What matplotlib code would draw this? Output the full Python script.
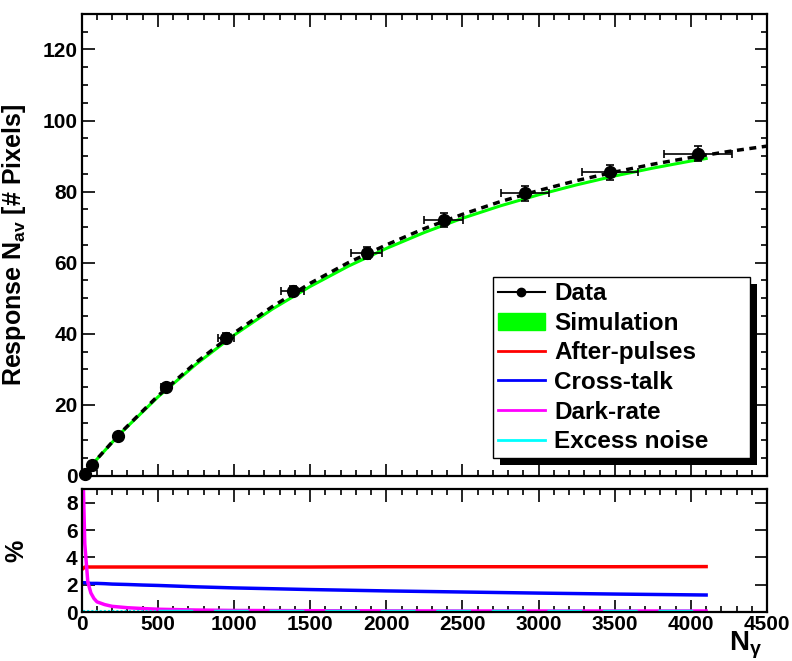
import matplotlib
matplotlib.use('Agg')
import matplotlib.pyplot as plt
from matplotlib.patches import Patch, Rectangle
from matplotlib.lines import Line2D
from matplotlib.ticker import MultipleLocator

plt.rcParams['font.family'] = ['Liberation Sans', 'DejaVu Sans']
plt.rcParams['font.weight'] = 'bold'
plt.rcParams['mathtext.fontset'] = 'custom'
plt.rcParams['mathtext.rm'] = 'Liberation Sans:bold'
plt.rcParams['mathtext.it'] = 'Liberation Sans:bold'
plt.rcParams['mathtext.bf'] = 'Liberation Sans:bold'

# measured response
data_x = [20, 68, 238, 552, 946, 1386, 1872, 2378, 2910, 3470, 4047]
data_y = [0.4, 3.1, 11.3, 25.0, 38.9, 52.1, 62.7, 72.0, 79.5, 85.5, 90.6]
data_xerr = [1, 4, 13, 30, 52, 76, 102, 128, 158, 184, 223]
data_yerr = [0.5, 0.6, 0.8, 1.0, 1.2, 1.4, 1.6, 1.9, 2.1, 2.1, 2.1]

# fit curve (dashed)
fit_x = [0, 250, 500, 750, 1000, 1250, 1500, 1750, 2000, 2250, 2500, 2750,
         3000, 3250, 3500, 3750, 4000, 4250, 4500]
fit_y = [0, 11.9, 22.5, 31.9, 40.2, 47.6, 54.2, 60.0, 65.0, 69.6, 73.6, 77.2,
         80.3, 83.1, 85.5, 87.7, 89.6, 91.3, 92.8]

# simulation (green)
sim_x = [0, 250, 500, 750, 1000, 1250, 1500, 1750, 2000, 2250, 2500, 2750,
         3000, 3250, 3500, 3750, 4000, 4100]
sim_y = [0, 11.8, 22.2, 31.4, 39.6, 46.9, 53.3, 59.0, 64.0, 68.5, 72.5, 76.0,
         79.1, 81.9, 84.4, 86.6, 88.6, 89.3]

# contributions in %
noise_x = [10, 20, 40, 60, 80, 100, 150, 200, 300, 400, 500, 750, 1000,
           1500, 2000, 2500, 3000, 3500, 4100]
afterpulse = [3.2, 3.3, 3.3, 3.3, 3.3, 3.3, 3.3, 3.3, 3.3, 3.3, 3.3, 3.3, 3.3,
              3.3, 3.32, 3.32, 3.32, 3.32, 3.33]
crosstalk = [2.15, 2.15, 2.12, 2.1, 2.1, 2.1, 2.08, 2.05, 2.02, 1.98, 1.95,
             1.85, 1.77, 1.65, 1.55, 1.47, 1.39, 1.32, 1.25]
darkrate = [9.5, 5.0, 2.2, 1.4, 1.0, 0.75, 0.55, 0.42, 0.32, 0.26, 0.21, 0.15,
            0.12, 0.1, 0.09, 0.08, 0.08, 0.08, 0.08]
excess = [0.08] * len(noise_x)

fig = plt.figure(figsize=(7.92, 6.61), dpi=100)
ax = fig.add_axes([0.1032, 0.280, 0.8653, 0.699])
axb = fig.add_axes([0.1032, 0.074, 0.8653, 0.186])

ax.plot(sim_x, sim_y, color='#00ff00', lw=2.2, zorder=2)
ax.plot(fit_x, fit_y, color='black', lw=2.5, ls=(0, (2.0, 1.6)), zorder=3)
ax.errorbar(data_x, data_y, xerr=data_xerr, yerr=data_yerr, fmt='o',
            color='black', ms=8.5, elinewidth=1.2, capsize=3, capthick=1.2,
            zorder=4, clip_on=False)

axb.plot(noise_x, afterpulse, color='#ff0000', lw=2.5)
axb.plot(noise_x, crosstalk, color='#0000ff', lw=2.5)
axb.plot(noise_x, darkrate, color='#ff00ff', lw=2.5)
axb.plot(noise_x[10:], excess[10:], color='#00ffff', lw=2.5,
         ls=(0, (10, 6)))
axb.plot(noise_x[:11], excess[:11], color='#00ffff', lw=1.5,
         ls=(0, (1, 1)))

for a in (ax, axb):
    a.set_xlim(0, 4500)
    a.xaxis.set_major_locator(MultipleLocator(500))
    a.xaxis.set_minor_locator(MultipleLocator(100))
    a.tick_params(which='both', direction='in', top=True, right=True,
                  width=1.2, labelsize=15, pad=3)
    a.tick_params(which='major', length=9)
    a.tick_params(which='minor', length=4.5)
    for s in a.spines.values():
        s.set_linewidth(1.6)

ax.set_ylim(0, 130)
ax.yaxis.set_major_locator(MultipleLocator(20))
ax.yaxis.set_minor_locator(MultipleLocator(5))
ax.tick_params(axis='x', labelbottom=False)
ax.set_ylabel(r'Response $\mathrm{N_{av}}$ [# Pixels]', fontsize=18,
              fontweight='bold')
ax.yaxis.set_label_coords(-0.078, 0.5)

axb.set_ylim(0, 9)
axb.yaxis.set_major_locator(MultipleLocator(2))
axb.yaxis.set_minor_locator(MultipleLocator(2))
axb.tick_params(axis='x', pad=2)
axb.set_ylabel('%', fontsize=18, fontweight='bold')
axb.yaxis.set_label_coords(-0.078, 0.5)
fig.text(0.962, 0.0, r'$\mathrm{N_{\gamma}}$', fontsize=20,
         fontweight='bold', ha='right', va='bottom')

handles = [
    Line2D([], [], color='black', marker='o', ms=6, lw=1.5),
    Patch(facecolor='#00ff00', edgecolor='#00ff00'),
    Line2D([], [], color='#ff0000', lw=2),
    Line2D([], [], color='#0000ff', lw=2),
    Line2D([], [], color='#ff00ff', lw=2),
    Line2D([], [], color='#00ffff', lw=2),
]
labels = ['Data', 'Simulation', 'After-pulses', 'Cross-talk', 'Dark-rate',
          'Excess noise']
leg = ax.legend(handles, labels, loc='upper left',
                bbox_to_anchor=(0.6225, 0.301, 0.3245, 0.280),
                bbox_transform=fig.transFigure, mode='expand',
                fancybox=False, framealpha=1, edgecolor='black',
                prop={'size': 17.5, 'weight': 'bold'}, handlelength=1.9,
                handletextpad=0.4, labelspacing=0.27, borderpad=0.22,
                borderaxespad=0)
leg.get_frame().set_linewidth(1.0)
leg.set_zorder(6)

fig.canvas.draw()
bb = leg.get_window_extent().transformed(fig.transFigure.inverted())
ax.add_patch(Rectangle((bb.x0 + 7 / 792, bb.y0 - 7 / 661), bb.width,
                       bb.height, transform=fig.transFigure,
                       facecolor='black', edgecolor='none', zorder=5.5,
                       clip_on=False))

fig.savefig('out.png', dpi=100)
